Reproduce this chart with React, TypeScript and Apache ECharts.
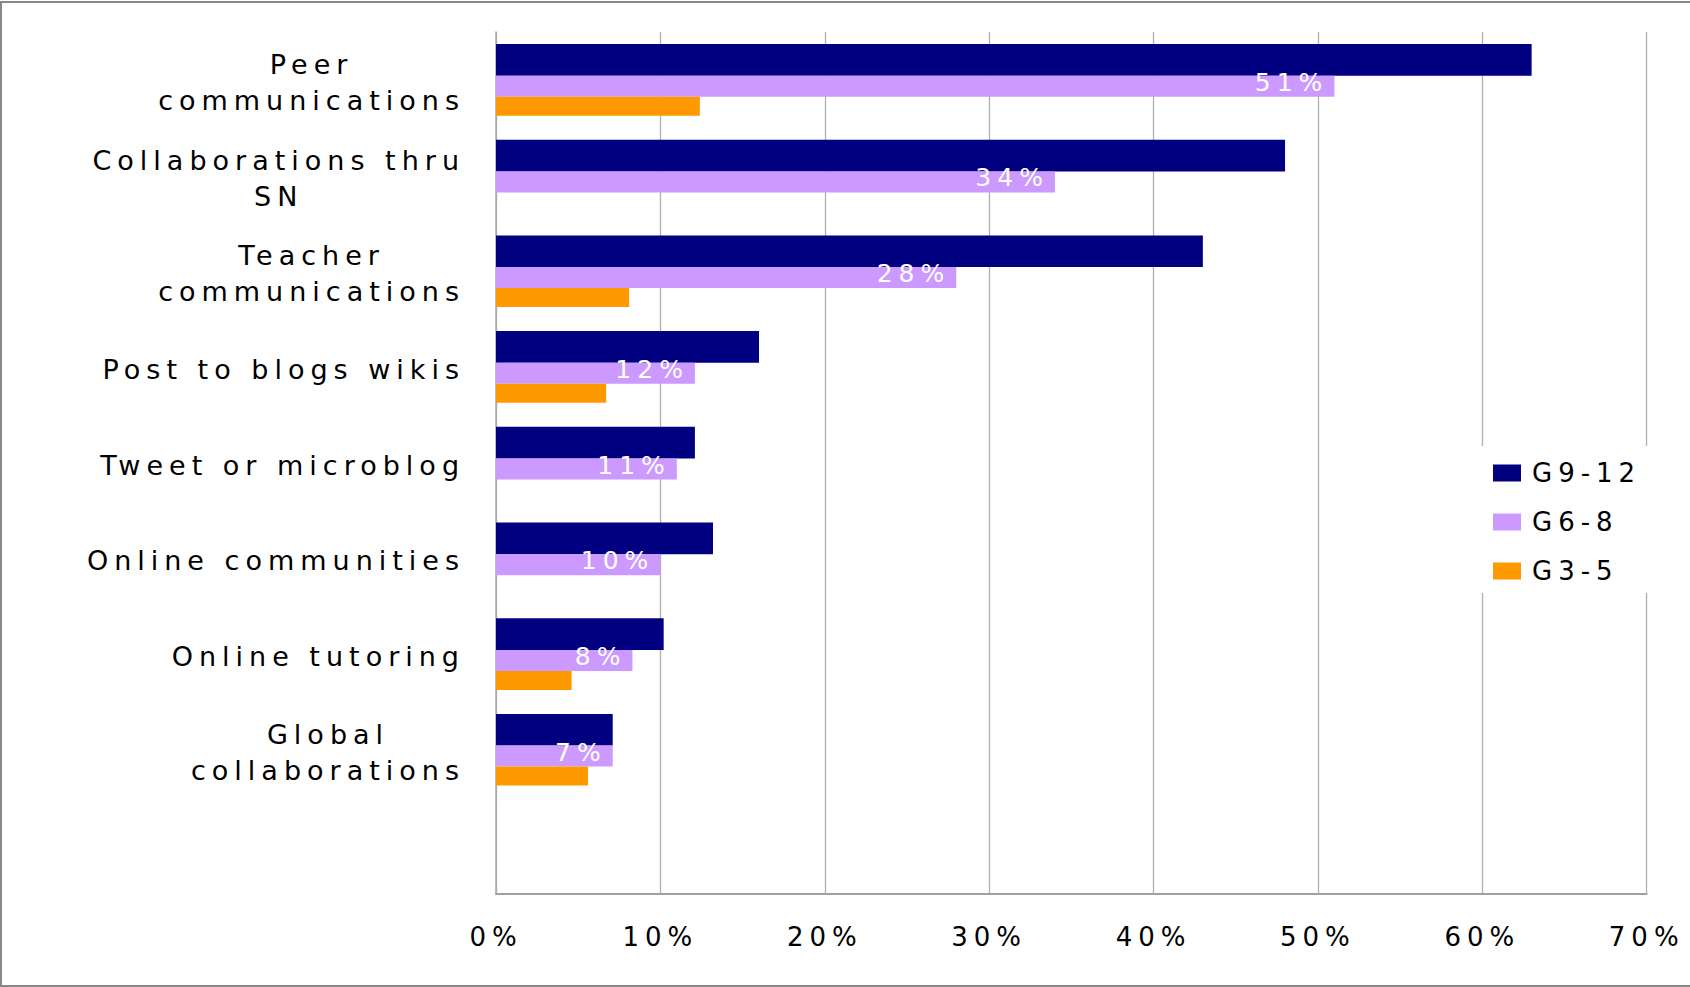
import React, { useEffect, useRef } from "react";
import * as echarts from "echarts";

const categories = [
  "Peer\ncommunications",
  "Collaborations thru\nSN",
  "Teacher\ncommunications",
  "Post to blogs wikis",
  "Tweet or microblog",
  "Online communities",
  "Online tutoring",
  "Global\ncollaborations",
  "",
];
const seriesNames = ["G9-12", "G6-8", "G3-5"];
const g912 = [63, 48, 43, 16, 12.1, 13.2, 10.2, 7.1, null];
const g68 = [51, 34, 28, 12.1, 11, 10, 8.3, 7.1, null];
const g35 = [12.4, null, 8.1, 6.7, null, null, 4.6, 5.6, null];
const xMin = 0;
const xMax = 70;
const xStep = 10;

const FONT = "'DejaVu Sans', Verdana, sans-serif";
const SPACING = 6;
const colors = ["#000080", "#cc99ff", "#ff9900"];
const barWidths = [31.7, 21, 19];

export default function App() {
  const ref = useRef<HTMLDivElement>(null);
  useEffect(() => {
    document.body.style.margin = "0";
    if (!ref.current) return;
    const chart = echarts.init(ref.current, undefined, { renderer: "svg" });
    const yData = categories.map((c) => {
      const n = c ? Math.max(...c.split("\n").map((l) => l.length)) : 0;
      return {
        value: c,
        textStyle: { padding: [5, c ? (SPACING / 2) * n - SPACING : 0, 0, 0] },
      };
    });
    const values = [g912, g68, g35];
    chart.setOption({
      animation: false,
      backgroundColor: "#fff",
      tooltip: { show: false },
      grid: {
        left: 496,
        right: 43.3,
        top: 32,
        bottom: 93.7,
        containLabel: false,
        outerBoundsMode: "none",
      },
      legend: {
        orient: "vertical",
        left: 1479,
        top: 446,
        itemWidth: 28,
        itemHeight: 17,
        itemGap: 19,
        icon: "rect",
        backgroundColor: "#fff",
        padding: [12, 46, 7, 14],
        data: seriesNames,
        selectedMode: false,
        textStyle: {
          fontFamily: FONT,
          fontSize: 26,
          lineHeight: 30,
          color: "#000",
          padding: [0, 0, 0, 6],
        },
      },
      xAxis: {
        type: "value",
        min: xMin,
        max: xMax,
        interval: xStep,
        axisLine: { show: true, lineStyle: { color: "#a0a0a0", width: 2 } },
        axisTick: { show: false },
        splitLine: { show: true, lineStyle: { color: "#b0b0b0", width: 1.3 } },
        axisLabel: {
          formatter: (v: number) => `${v}%`,
          fontFamily: FONT,
          fontSize: 26,
          color: "#000",
          margin: 31,
        },
      },
      yAxis: {
        type: "category",
        inverse: true,
        data: yData,
        axisLine: { show: true, lineStyle: { color: "#a8a8a8", width: 1.5 } },
        axisTick: { show: false },
        splitLine: { show: false },
        axisLabel: {
          interval: 0,
          margin: 37,
          formatter: (v: string) =>
            v ? v.split("\n").map((l) => `{c|${l}}`).join("\n") : "",
          rich: {
            c: {
              fontFamily: FONT,
              fontSize: 27,
              lineHeight: 36,
              color: "#000",
              align: "center",
            },
          },
        },
      },
      graphic: [
        {
          type: "rect",
          silent: true,
          shape: { x: 1, y: 2, width: 1720, height: 984 },
          style: { fill: "none", stroke: "#888888", lineWidth: 2 },
        },
      ],
      series: seriesNames.map((name, i) => ({
        name,
        type: "bar",
        data: values[i],
        barWidth: barWidths[i],
        barGap: "0%",
        itemStyle: { color: colors[i] },
        emphasis: { disabled: true },
        label:
          i === 1
            ? {
                show: true,
                position: "insideRight",
                distance: 6,
                offset: [0, -4],
                color: "#fff",
                fontFamily: FONT,
                fontSize: 25,
                formatter: (p: any) => `${Math.round(p.value)}%`,
              }
            : { show: false },
      })),
    });
    return () => chart.dispose();
  }, []);
  return (
    <>
      <style>{`body { margin: 0; } .cv text { letter-spacing: ${SPACING}px; }`}</style>
      <div ref={ref} className="cv" style={{ width: 1690, height: 987 }} />
    </>
  );
}
